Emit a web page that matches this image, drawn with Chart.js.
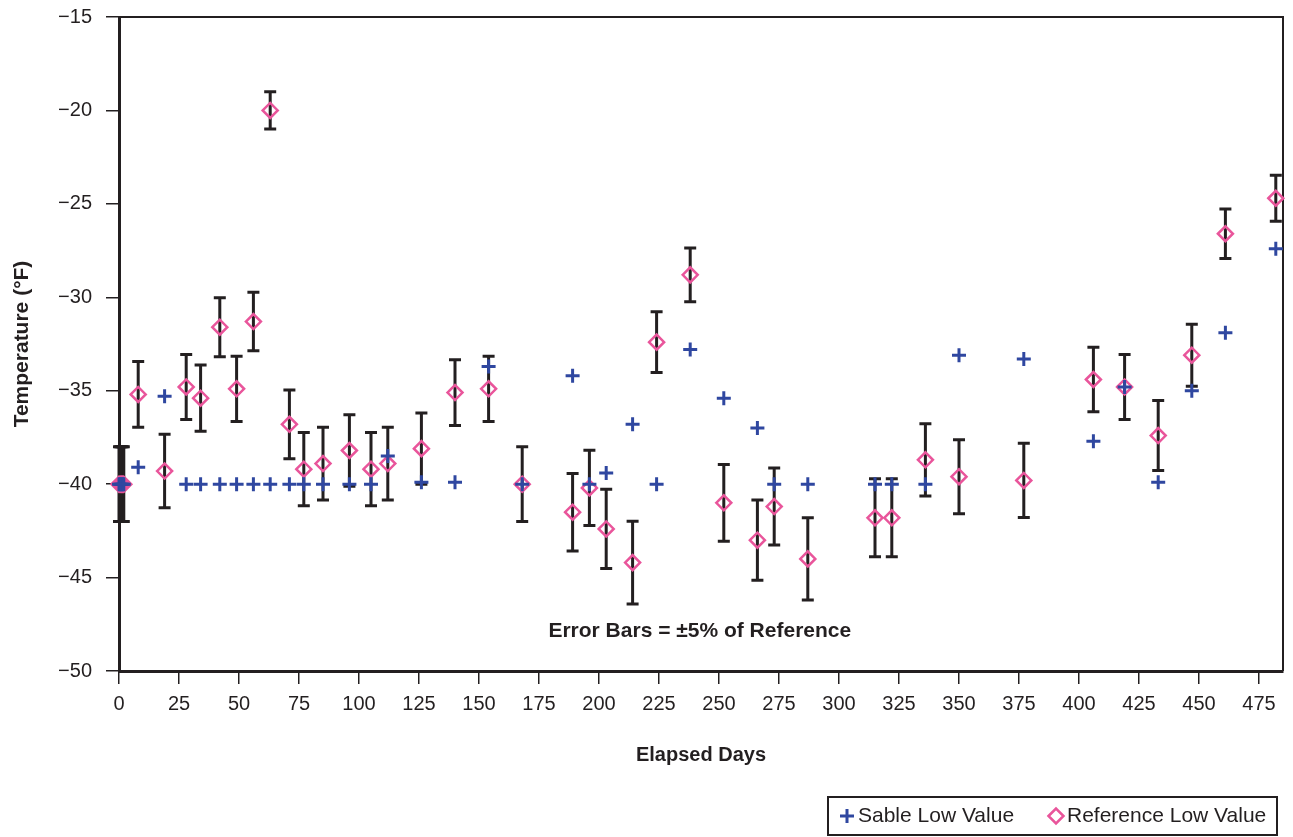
<!DOCTYPE html>
<html>
<head>
<meta charset="utf-8">
<script src="https://cdn.jsdelivr.net/npm/chart.js@4.4.1/dist/chart.umd.min.js"></script>
<style>
html, body { margin: 0; padding: 0; background: #fff; }
</style>
</head>
<body>
<canvas id="tempChart" width="1293" height="837"></canvas>
<script>
// days since start, shared by both series (first few readings bunched at day 0-2)
const elapsedDays = [0, 0.5, 1, 1.5, 2, 8, 19, 28, 34, 42, 49, 56, 63, 71, 77, 85, 96, 105, 112, 126, 140, 154, 168,
    189, 196, 203, 214, 224, 238, 252, 266, 273, 287, 315, 322, 336, 350, 377, 406, 419, 433, 447, 461, 482];

const sableLow = [-40, -40, -40, -40, -40, -39.1, -35.3, -40, -40, -40, -40, -40, -40, -40, -40, -40, -40, -40, -38.5, -39.9, -39.9, -33.7, -40,
    -34.2, -40, -39.4, -36.8, -40, -32.8, -35.4, -37.0, -40, -40, -40, -40, -40, -33.1, -33.3, -37.7, -34.8, -39.9, -35.0, -31.9, -27.4];

const referenceLow = [-40, -40, -40, -40, -40, -35.2, -39.3, -34.8, -35.4, -31.6, -34.9, -31.3, -20.0, -36.8, -39.2, -38.9, -38.2, -39.2, -38.9, -38.1, -35.1, -34.9, -40,
    -41.5, -40.2, -42.4, -44.2, -32.4, -28.8, -41.0, -43.0, -41.2, -44.0, -41.8, -41.8, -38.7, -39.6, -39.8, -34.4, -34.8, -37.4, -33.1, -26.6, -24.7];

const errorPct = 0.05; // +-5% of reference

const ink = '#231f20';
const sableBlue = '#2f47a0';
const refPink = '#e9559b';
const narrow = "'Liberation Sans Narrow', 'Liberation Sans', sans-serif";

const errorBarPlugin = {
    id: 'errorBars',
    beforeDatasetsDraw(chart) {
        const { ctx, scales: { x, y } } = chart;
        ctx.save();
        ctx.strokeStyle = ink;
        ctx.lineWidth = 3;
        referenceLow.forEach((v, i) => {
            const px = x.getPixelForValue(elapsedDays[i]);
            const err = Math.abs(v) * errorPct;
            const top = y.getPixelForValue(v + err);
            const bot = y.getPixelForValue(v - err);
            ctx.beginPath();
            ctx.moveTo(px, top); ctx.lineTo(px, bot);
            ctx.moveTo(px - 6, top); ctx.lineTo(px + 6, top);
            ctx.moveTo(px - 6, bot); ctx.lineTo(px + 6, bot);
            ctx.stroke();
        });
        ctx.restore();
    }
};

const framePlugin = {
    id: 'frame',
    beforeDatasetsDraw(chart) {
        const { ctx, chartArea: a } = chart;
        ctx.save();
        ctx.strokeStyle = ink;
        ctx.lineWidth = 2;
        ctx.beginPath();
        ctx.moveTo(a.left, a.top); ctx.lineTo(a.right, a.top); ctx.lineTo(a.right, a.bottom);
        ctx.stroke();
        ctx.restore();
    },
    afterDraw(chart) {
        const { ctx, scales: { x, y } } = chart;
        ctx.save();
        // note inside plot
        ctx.fillStyle = ink;
        ctx.font = "bold 21px " + narrow;
        ctx.textAlign = 'center';
        ctx.textBaseline = 'middle';
        ctx.fillText('Error Bars = \u00b15% of Reference', x.getPixelForValue(242), y.getPixelForValue(-47.85));

        // legend box
        const bx = 828, by = 797, bw = 449, bh = 38;
        ctx.lineWidth = 2;
        ctx.strokeStyle = ink;
        ctx.strokeRect(bx, by, bw, bh);
        const cy = by + bh / 2;
        ctx.font = "21px " + narrow;
        ctx.textAlign = 'left';
        ctx.fillText('Sable Low Value', bx + 30, cy);
        ctx.fillText('Reference Low Value', bx + 239, cy);
        ctx.fillStyle = 'rgba(0,0,0,0)';
        ctx.strokeStyle = sableBlue;
        ctx.lineWidth = 3;
        Chart.helpers.drawPoint(ctx, { pointStyle: 'cross', radius: 7, borderWidth: 3 }, bx + 19, cy);
        ctx.strokeStyle = refPink;
        ctx.lineWidth = 2.5;
        Chart.helpers.drawPoint(ctx, { pointStyle: 'rectRot', radius: 7.5, borderWidth: 2.5 }, bx + 228, cy);
        ctx.restore();
    }
};

new Chart(document.getElementById('tempChart'), {
    type: 'scatter',
    data: {
        datasets: [
            {
                label: 'Sable Low Value',
                data: elapsedDays.map((d, i) => ({ x: d, y: sableLow[i] })),
                pointStyle: 'cross',
                pointRadius: 7,
                pointBorderWidth: 3,
                borderColor: sableBlue,
                backgroundColor: sableBlue
            },
            {
                label: 'Reference Low Value',
                data: elapsedDays.map((d, i) => ({ x: d, y: referenceLow[i] })),
                pointStyle: 'rectRot',
                pointRadius: 7.5,
                pointBorderWidth: 2.5,
                borderColor: refPink,
                backgroundColor: 'rgba(0,0,0,0)'
            }
        ]
    },
    options: {
        responsive: false,
        animation: false,
        devicePixelRatio: 1,
        clip: false,
        layout: { padding: { top: 17, right: 10, bottom: 47, left: 0 } },
        plugins: {
            legend: { display: false },
            tooltip: { enabled: false }
        },
        scales: {
            x: {
                type: 'linear',
                min: 0,
                max: 485,
                border: { display: true, width: 3, color: ink },
                grid: { drawOnChartArea: false, drawTicks: true, tickLength: 13, color: ink, lineWidth: 1.5 },
                ticks: { stepSize: 25, includeBounds: false, maxRotation: 0, autoSkip: false, padding: 8, color: ink, font: { family: narrow, size: 20 } },
                title: { display: true, text: 'Elapsed Days', color: ink, font: { family: narrow, size: 20, weight: 'bold' }, padding: { top: 19, bottom: 23 } }
            },
            y: {
                min: -50,
                max: -15,
                border: { display: true, width: 3, color: ink },
                grid: { drawOnChartArea: false, drawTicks: true, tickLength: 13, color: ink, lineWidth: 1.5 },
                ticks: {
                    stepSize: 5,
                    padding: 14,
                    color: ink,
                    font: { family: "'Liberation Sans', Arial, sans-serif", size: 20 },
                    callback: v => (v < 0 ? '\u2212' + Math.abs(v) : v)
                },
                title: { display: true, text: 'Temperature (\u00b0F)', color: ink, font: { family: narrow, size: 21, weight: 'bold' }, padding: { top: 10, bottom: 0 } },
                afterFit: s => { s.width = 119; s.paddingTop = 0; s.paddingBottom = 0; }
            }
        }
    },
    plugins: [errorBarPlugin, framePlugin]
});
</script>
</body>
</html>
